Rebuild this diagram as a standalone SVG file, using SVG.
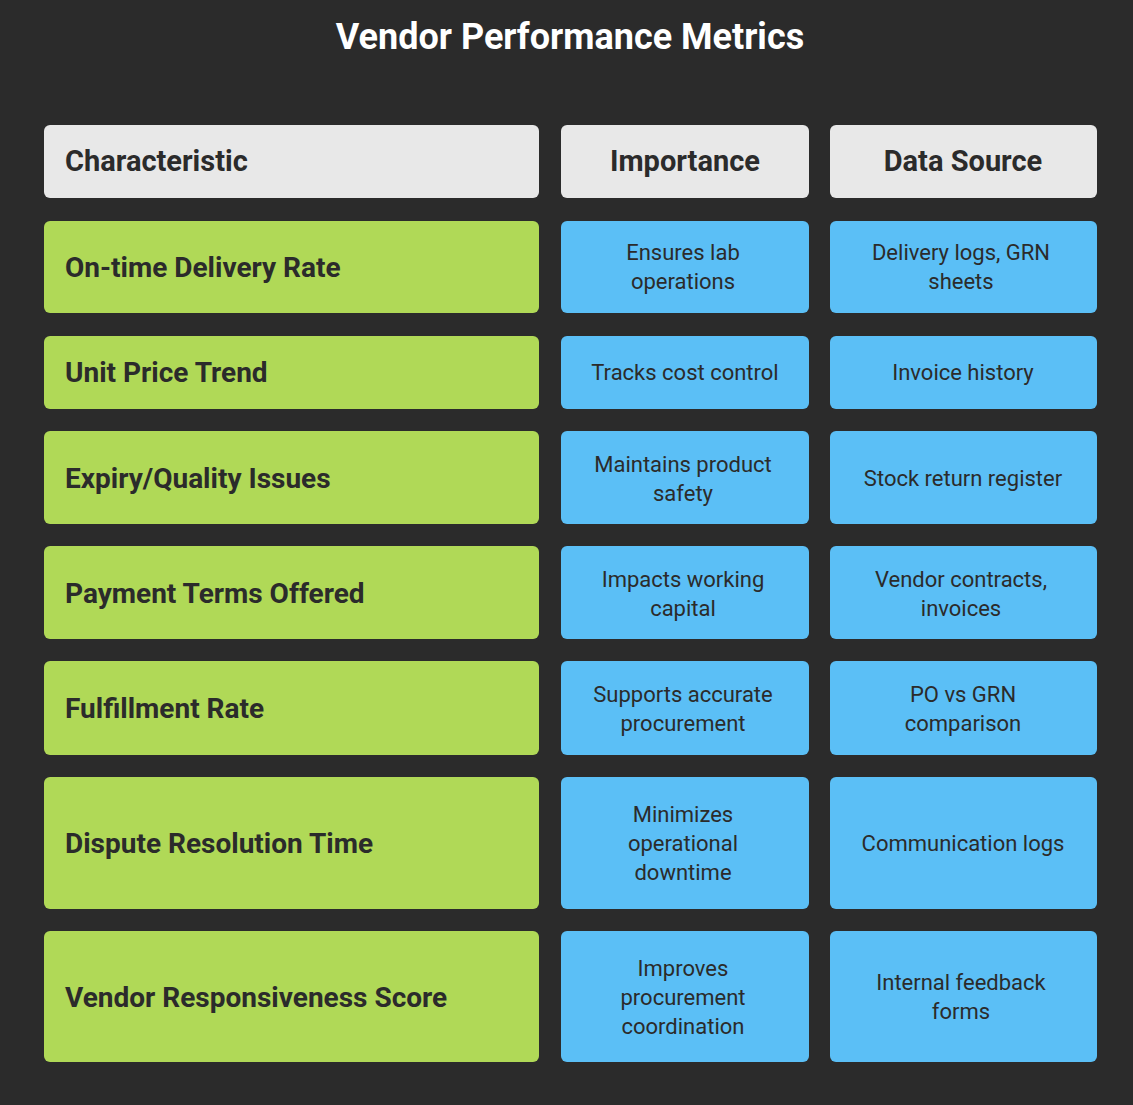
<svg xmlns="http://www.w3.org/2000/svg" width="1133" height="1105" viewBox="0 0 1133 1105">
<style>
.h{fill:#e8e8e8}.g{fill:#b0d957}.b{fill:#5bbff6}
.ht{font-family:Roboto,"Liberation Sans",sans-serif;font-weight:bold;font-size:29px;fill:#2b2b2b;dominant-baseline:central}
.ct{font-family:Roboto,"Liberation Sans",sans-serif;font-weight:bold;font-size:28px;fill:#2b2b2b;dominant-baseline:central}
.bt{font-family:Roboto,"Liberation Sans",sans-serif;font-size:22px;fill:#2b2b2b;text-anchor:middle;dominant-baseline:central}
</style>
<rect width="1133" height="1105" fill="#2b2b2b"/>
<text x="570" y="37" text-anchor="middle" dominant-baseline="central" font-family="Roboto,'Liberation Sans',sans-serif" font-weight="bold" font-size="36" fill="#ffffff">Vendor Performance Metrics</text>
<g id="header">
<rect class="h" x="44" y="125" width="495" height="73" rx="6"/><text class="ht" x="65" y="161">Characteristic</text>
<rect class="h" x="561" y="125" width="248" height="73" rx="6"/><text class="ht" x="685" y="161" text-anchor="middle">Importance</text>
<rect class="h" x="830" y="125" width="267" height="73" rx="6"/><text class="ht" x="963" y="161" text-anchor="middle">Data Source</text>
</g>
<g id="row1">
<rect class="g" x="44" y="221" width="495" height="92" rx="6"/><text class="ct" x="65" y="267">On-time Delivery Rate</text>
<rect class="b" x="561" y="221" width="248" height="92" rx="6"/><text class="bt" x="683" y="252">Ensures lab</text><text class="bt" x="683" y="281">operations</text>
<rect class="b" x="830" y="221" width="267" height="92" rx="6"/><text class="bt" x="961" y="252">Delivery logs, GRN</text><text class="bt" x="961" y="281">sheets</text>
</g>
<g id="row2">
<rect class="g" x="44" y="336" width="495" height="73" rx="6"/><text class="ct" x="65" y="372">Unit Price Trend</text>
<rect class="b" x="561" y="336" width="248" height="73" rx="6"/><text class="bt" x="685" y="372">Tracks cost control</text>
<rect class="b" x="830" y="336" width="267" height="73" rx="6"/><text class="bt" x="963" y="372">Invoice history</text>
</g>
<g id="row3">
<rect class="g" x="44" y="431" width="495" height="93" rx="6"/><text class="ct" x="65" y="478">Expiry/Quality Issues</text>
<rect class="b" x="561" y="431" width="248" height="93" rx="6"/><text class="bt" x="683" y="464">Maintains product</text><text class="bt" x="683" y="493">safety</text>
<rect class="b" x="830" y="431" width="267" height="93" rx="6"/><text class="bt" x="963" y="478">Stock return register</text>
</g>
<g id="row4">
<rect class="g" x="44" y="546" width="495" height="93" rx="6"/><text class="ct" x="65" y="593">Payment Terms Offered</text>
<rect class="b" x="561" y="546" width="248" height="93" rx="6"/><text class="bt" x="683" y="579">Impacts working</text><text class="bt" x="683" y="608">capital</text>
<rect class="b" x="830" y="546" width="267" height="93" rx="6"/><text class="bt" x="961" y="579">Vendor contracts,</text><text class="bt" x="961" y="608">invoices</text>
</g>
<g id="row5">
<rect class="g" x="44" y="661" width="495" height="94" rx="6"/><text class="ct" x="65" y="708">Fulfillment Rate</text>
<rect class="b" x="561" y="661" width="248" height="94" rx="6"/><text class="bt" x="683" y="694">Supports accurate</text><text class="bt" x="683" y="723">procurement</text>
<rect class="b" x="830" y="661" width="267" height="94" rx="6"/><text class="bt" x="963" y="694">PO vs GRN</text><text class="bt" x="963" y="723">comparison</text>
</g>
<g id="row6">
<rect class="g" x="44" y="777" width="495" height="132" rx="6"/><text class="ct" x="65" y="843">Dispute Resolution Time</text>
<rect class="b" x="561" y="777" width="248" height="132" rx="6"/><text class="bt" x="683" y="814">Minimizes</text><text class="bt" x="683" y="843">operational</text><text class="bt" x="683" y="872">downtime</text>
<rect class="b" x="830" y="777" width="267" height="132" rx="6"/><text class="bt" x="963" y="843">Communication logs</text>
</g>
<g id="row7">
<rect class="g" x="44" y="931" width="495" height="131" rx="6"/><text class="ct" x="65" y="997">Vendor Responsiveness Score</text>
<rect class="b" x="561" y="931" width="248" height="131" rx="6"/><text class="bt" x="683" y="968">Improves</text><text class="bt" x="683" y="997">procurement</text><text class="bt" x="683" y="1026">coordination</text>
<rect class="b" x="830" y="931" width="267" height="131" rx="6"/><text class="bt" x="961" y="982">Internal feedback</text><text class="bt" x="961" y="1011">forms</text>
</g>
<g id="connectors"/>
</svg>
